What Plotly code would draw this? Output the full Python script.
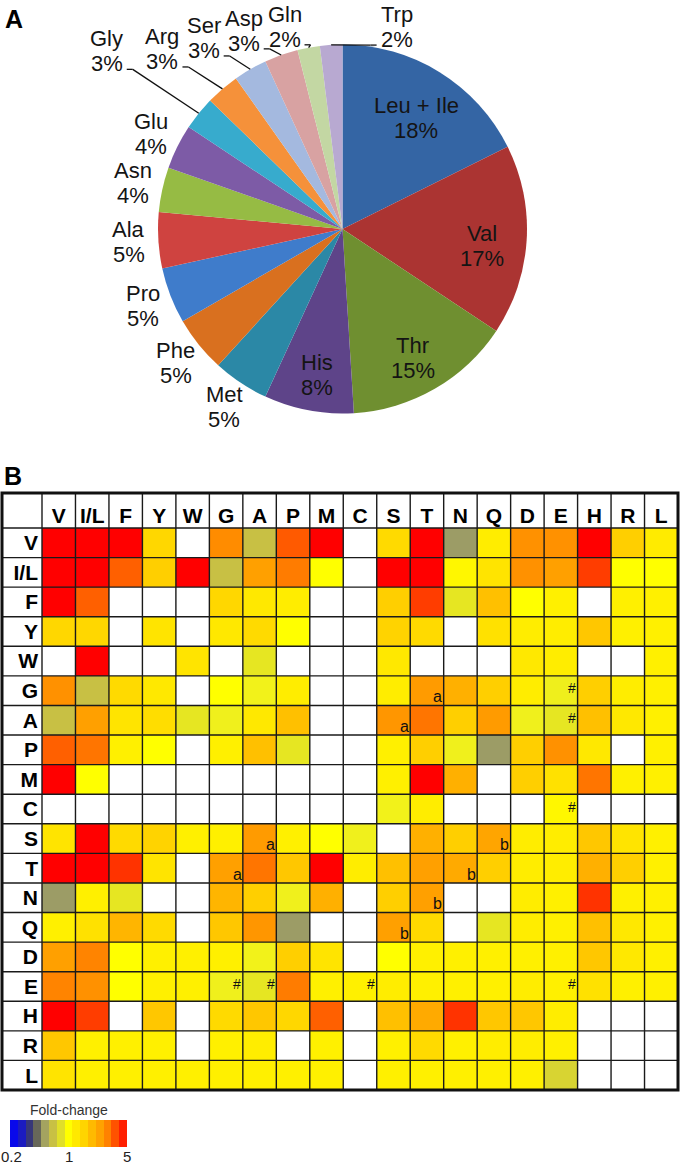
import numpy as np
import plotly.graph_objects as go

# ---------------- Panel A: pie data ----------------
PIE_LABELS = ["Leu + Ile", "Val", "Thr", "His", "Met", "Phe", "Pro", "Ala",
              "Asn", "Glu", "Gly", "Arg", "Ser", "Asp", "Gln", "Trp"]
PIE_VALUES = [18, 17, 15, 8, 5, 5, 5, 5, 4, 4, 3, 3, 3, 3, 2, 2]
PIE_COLORS = ["#3465a4", "#ab3432", "#6f8f30", "#5e4489", "#2b88a6", "#d9701f",
              "#3f7ccb", "#cf4340", "#96bb44", "#7d5ba6", "#37abcd", "#f5913a",
              "#a4b9df", "#d8a2a2", "#c3d7a3", "#b8a9d1"]
N_INSIDE = 4
# label placement for the crowded small slices (angle in degrees clockwise from 12 o'clock, radius factor)
LEADER_LABELS = {"Gly": (307, 1.60), "Arg": (315, 1.38), "Ser": (324, 1.28),
                 "Asp": (333.5, 1.20), "Gln": (344, 1.14), "Trp": (15, 1.133)}

# ---------------- Panel B: fold-change matrix ----------------
COLS = ["V", "I/L", "F", "Y", "W", "G", "A", "P", "M", "C", "S", "T", "N", "Q", "D", "E", "H", "R", "L"]
ROWS = ["V", "I/L", "F", "Y", "W", "G", "A", "P", "M", "C", "S", "T", "N", "Q", "D", "E", "H", "R", "L"]
N_ = None
FOLD = [
    [5, 5, 5, 1.5, N_, 2.8, 0.65, 3.5, 5, N_, 1.45, 5, 0.5, 1.15, 2.7, 2.7, 5, 1.6, 1.2],          # V
    [5, 5, 3.4, 1.6, 5, 0.65, 2.4, 3.0, 1.0, N_, 5, 5, 1.05, 1.3, 2.7, 2.4, 4.0, 1.0, 1.0],        # I/L
    [5, 3.4, N_, N_, N_, 1.5, 1.25, 1.15, N_, N_, 1.6, 4.0, 0.85, 1.8, 1.0, 1.1, N_, 1.1, 1.1],    # F
    [1.5, 1.5, N_, 1.3, N_, 1.25, 1.45, 1.0, N_, N_, 1.55, 1.45, N_, 1.35, 1.15, 1.15, 1.7, 1.1, 1.1],  # Y
    [N_, 5, N_, N_, 1.3, N_, 0.85, N_, N_, N_, 1.25, N_, N_, N_, 1.25, 1.15, N_, N_, 1.1],         # W
    [2.7, 0.65, 1.45, 1.25, N_, 1.0, 0.95, 1.15, N_, N_, 1.15, 2.5, 2.1, 1.6, 1.15, 0.92, 1.6, 1.15, 1.1],  # G
    [0.65, 2.4, 1.3, 1.4, 0.85, 0.93, 1.25, 1.8, N_, N_, 2.6, 3.1, 1.6, 2.5, 0.93, 0.85, 1.8, 1.25, 1.1],   # A
    [3.4, 3.1, 1.1, 1.0, N_, 1.1, 1.8, 0.85, N_, N_, 1.1, 1.6, 0.93, 0.5, 1.6, 2.7, 1.25, N_, 1.1],  # P
    [5, 1.0, N_, N_, N_, N_, N_, N_, N_, N_, 1.1, 5, 2.1, N_, 1.6, 1.35, 3.1, 1.1, 1.1],            # M
    [N_, N_, N_, N_, N_, N_, N_, N_, N_, N_, 0.95, 1.15, N_, N_, N_, 1.05, N_, N_, N_],            # C
    [1.3, 5, 1.45, 1.55, 1.1, 1.1, 2.5, 1.1, 1.0, 0.93, N_, 2.1, 1.6, 2.3, 1.15, 1.15, 1.7, 1.3, 1.1],  # S
    [5, 5, 4.2, 1.3, N_, 2.4, 3.1, 1.7, 5, 1.15, 1.8, 2.4, 2.2, 1.6, 1.15, 1.15, 2.1, 1.6, 1.1],    # T
    [0.5, 1.1, 0.85, N_, N_, 2.0, 1.6, 0.93, 2.1, N_, 1.6, 2.4, N_, N_, 1.15, 1.1, 4.2, 1.1, 1.1],  # N
    [1.1, 1.35, 2.0, 1.45, N_, 1.7, 2.6, 0.5, N_, N_, 2.4, 1.45, N_, 0.85, 1.15, 1.1, 1.8, 1.25, 1.1],  # Q
    [2.4, 2.9, 1.0, 1.1, 1.1, 1.1, 0.95, 1.6, 1.3, N_, 1.0, 1.1, 1.1, 1.1, 1.1, 1.1, 1.7, 1.25, 1.1],   # D
    [2.9, 2.7, 1.0, 1.1, 1.1, 0.93, 0.85, 3.0, 1.1, 1.1, 1.15, 1.1, 1.1, 1.1, 1.15, 1.1, 1.35, 1.1, 1.1],  # E
    [5, 4.0, N_, 1.7, N_, 1.45, 1.7, 1.5, 3.4, N_, 1.8, 2.2, 4.2, 1.7, 1.7, 1.15, N_, N_, N_],      # H
    [1.7, 1.1, 1.1, 1.1, N_, 1.1, 1.15, N_, 1.1, N_, 1.1, 1.45, 1.1, 1.15, 1.15, 1.1, N_, N_, N_],  # R
    [1.3, 1.1, 1.1, 1.1, 1.1, 1.1, 1.1, 1.1, 1.1, N_, 1.1, 1.1, 1.1, 1.1, 1.1, 0.75, N_, N_, N_],  # L
]
# (row, column, mark) annotations inside cells
MARKS = [("G", "T", "a"), ("G", "E", "#"), ("A", "S", "a"), ("A", "E", "#"), ("C", "E", "#"),
         ("S", "A", "a"), ("S", "Q", "b"), ("T", "G", "a"), ("T", "N", "b"), ("N", "T", "b"),
         ("Q", "S", "b"), ("E", "G", "#"), ("E", "A", "#"), ("E", "C", "#"), ("E", "E", "#")]

FC_MIN, FC_MAX = 0.2, 5.0
LEGEND_TICKS = [0.2, 1, 5]
N_BANDS = 15

# colour anchors (fold-change -> colour)
SCALE_ANCHORS = [(0.2, "#0000ff"), (0.27, "#1818c8"), (0.33, "#303080"), (0.4, "#555555"),
                 (0.5, "#9c9c66"), (0.65, "#c8c044"), (0.85, "#e6e622"), (0.95, "#f2f21a"),
                 (1.0, "#ffff00"), (1.1, "#fff000"), (1.25, "#ffe800"), (1.5, "#ffd700"),
                 (1.8, "#ffc000"), (2.1, "#ffb000"), (2.4, "#ffa000"), (2.8, "#ff8c00"),
                 (3.4, "#ff6000"), (4.2, "#ff3300"), (5.0, "#ff0000")]


def hex2rgb(h):
    h = h.lstrip("#")
    return tuple(int(h[i:i + 2], 16) for i in (0, 2, 4))


def to_t(f):
    return float(np.log(f / FC_MIN) / np.log(FC_MAX / FC_MIN))


anchor_t = [to_t(f) for f, _ in SCALE_ANCHORS]
anchor_t[0], anchor_t[-1] = 0.0, 1.0
colorscale = [[t, "rgb(%d,%d,%d)" % hex2rgb(c)] for t, (_, c) in zip(anchor_t, SCALE_ANCHORS)]

z = np.log10(np.array(FOLD, dtype=float))
zmin, zmax = np.log10(FC_MIN), np.log10(FC_MAX)
band_centres = zmin + (np.arange(N_BANDS) + 0.5) * (zmax - zmin) / N_BANDS

W, H = 680, 1167
FONT = "Liberation Sans, Arial, sans-serif"
PIE_FONT = "Liberation Sans Narrow, Arial Narrow, Liberation Sans, sans-serif"
LINE_GAP = 25  # px between the two lines of a pie label


def P(x, y):  # pixel -> paper
    return x / W, 1 - y / H


fig = go.Figure()

# pie geometry (pixels)
PX0, PX1, PY0, PY1 = 158, 527, 43, 415
pcx, pcy = (PX0 + PX1) / 2, (PY0 + PY1) / 2
PR = min(PX1 - PX0, PY1 - PY0) / 2

fig.add_trace(go.Pie(
    labels=PIE_LABELS, values=PIE_VALUES, sort=False, direction="clockwise", rotation=0,
    marker=dict(colors=PIE_COLORS, line=dict(width=0)), textinfo="none",
    domain=dict(x=[PX0 / W, PX1 / W], y=[1 - PY1 / H, 1 - PY0 / H]),
    showlegend=False, hoverinfo="label+value",
))

fig.add_trace(go.Heatmap(
    z=z, x=list(range(len(COLS))), y=list(range(len(ROWS))),
    colorscale=colorscale, zmin=zmin, zmax=zmax, showscale=False,
    xaxis="x", yaxis="y", hoverongaps=False,
))

# banded colour key
fig.add_trace(go.Heatmap(
    z=[band_centres], x=band_centres, y=[0], colorscale=colorscale, zmin=zmin, zmax=zmax,
    showscale=False, xaxis="x2", yaxis="y2", hoverinfo="skip",
))

annotations = []
shapes = []

# pie labels
total = float(sum(PIE_VALUES))
cum = np.cumsum([0] + PIE_VALUES)
for i, (lab, v) in enumerate(zip(PIE_LABELS, PIE_VALUES)):
    mid = (cum[i] + v / 2) / total * 2 * np.pi
    if i < N_INSIDE:
        r, ang, dy = 0.76 * PR, mid, 8
    elif lab in LEADER_LABELS:
        a_deg, rf = LEADER_LABELS[lab]
        r, ang, dy = rf * PR, np.deg2rad(a_deg), 0
    else:
        r, ang, dy = 1.16 * PR, mid, 0
    tx, ty = pcx + r * np.sin(ang), pcy - r * np.cos(ang) + dy
    for txt, yy in [(lab, ty - LINE_GAP / 2), ("%d%%" % v, ty + LINE_GAP / 2)]:
        x, y = P(tx, yy)
        annotations.append(dict(text=txt, x=x, y=y, xref="paper", yref="paper", showarrow=False,
                                xanchor="center", yanchor="middle", borderpad=0,
                                font=dict(size=22, color="#141414", family=PIE_FONT)))
    if lab in LEADER_LABELS:
        ex, ey = pcx + PR * np.sin(mid), pcy - PR * np.cos(mid)
        s = 1 if tx < pcx else -1
        ptx, pty = tx + s * 20, ty + 18
        pbx = ptx + s * 6
        for (xa, ya, xb, yb) in [(ptx, pty, pbx, pty), (pbx, pty, ex, ey)]:
            a0, b0 = P(xa, ya)
            a1, b1 = P(xb, yb)
            shapes.append(dict(type="line", xref="paper", yref="paper", x0=a0, y0=b0, x1=a1, y1=b1,
                               line=dict(color="#111111", width=1.3)))

# table grid
xL, xR, x0 = 42 / W, 678 / W, 2 / W
yT, yHd, yB = 1 - 493 / H, 1 - 528 / H, 1 - 1090 / H
nC, nR = len(COLS), len(ROWS)
for i in range(nC):
    xx = xL + i * (xR - xL) / nC
    shapes.append(dict(type="line", xref="paper", yref="paper", x0=xx, x1=xx, y0=yT, y1=yB,
                       line=dict(color="#1a1a1a", width=1.4)))
for j in range(nR + 1):
    yy = yHd - j * (yHd - yB) / nR
    shapes.append(dict(type="line", xref="paper", yref="paper", x0=x0, x1=xR, y0=yy, y1=yy,
                       line=dict(color="#1a1a1a", width=1.4)))
shapes.append(dict(type="rect", xref="paper", yref="paper", x0=x0, x1=xR, y0=yB, y1=yT,
                   line=dict(color="#111111", width=3)))

annotations += [
    dict(text="<b>A</b>", x=3 / W, y=1 - 3 / H, xref="paper", yref="paper", xanchor="left",
         yanchor="top", showarrow=False, font=dict(size=25, color="black", family=FONT)),
    dict(text="<b>B</b>", x=2 / W, y=1 - 460 / H, xref="paper", yref="paper", xanchor="left",
         yanchor="top", showarrow=False, font=dict(size=25, color="black", family=FONT)),
    dict(text="Fold-change", x=69 / W, y=1 - 1110 / H, xref="paper", yref="paper",
         xanchor="center", yanchor="middle", showarrow=False,
         font=dict(size=14, color="#333333", family=FONT)),
]
# colour-key tick labels
for k, v in enumerate(LEGEND_TICKS):
    annotations.append(dict(text="%g" % v, x=np.log10(v), y=1 - 1156 / H, xref="x2", yref="paper",
                            xanchor="left" if k == 0 else "center", xshift=-10 if k == 0 else 0,
                            yanchor="middle", showarrow=False, borderpad=0,
                            font=dict(size=15, color="#222", family=FONT)))
for r, c, m in MARKS:
    annotations.append(dict(text=m, x=COLS.index(c) + 0.33,
                            y=ROWS.index(r) + (0.2 if m != "#" else -0.08),
                            xref="x", yref="y", showarrow=False,
                            font=dict(size=16 if m != "#" else 14, color="#111", family=FONT)))

fig.update_layout(
    width=W, height=H, margin=dict(l=0, r=0, t=0, b=0, autoexpand=False),
    paper_bgcolor="white", plot_bgcolor="white",
    font=dict(family=FONT),
    xaxis=dict(domain=[xL, xR], range=[-0.5, nC - 0.5], side="top", tickvals=list(range(nC)),
               ticktext=["<b>%s</b>" % c for c in COLS], ticks="", showgrid=False, zeroline=False,
               showline=False, tickfont=dict(size=21, color="black", family=FONT),
               ticklabelstandoff=0, automargin=False, fixedrange=True),
    yaxis=dict(domain=[yB, yHd], range=[nR - 0.5, -0.5], tickvals=list(range(nR)),
               ticktext=["<b>%s</b>" % r for r in ROWS], ticks="", showgrid=False, zeroline=False,
               showline=False, tickfont=dict(size=21, color="black", family=FONT),
               ticklabelstandoff=3, automargin=False, fixedrange=True),
    xaxis2=dict(domain=[10 / W, 127 / W], range=[zmin, zmax], anchor="y2", showticklabels=False,
                ticks="", showgrid=False, zeroline=False, showline=False, automargin=False,
                fixedrange=True),
    yaxis2=dict(domain=[1 - 1147 / H, 1 - 1120 / H], range=[-0.5, 0.5], anchor="x2", visible=False,
                fixedrange=True),
    shapes=shapes, annotations=annotations,
)

fig.write_html("out.html", config={"displayModeBar": False},
               post_script="document.body.style.margin='0px';")
